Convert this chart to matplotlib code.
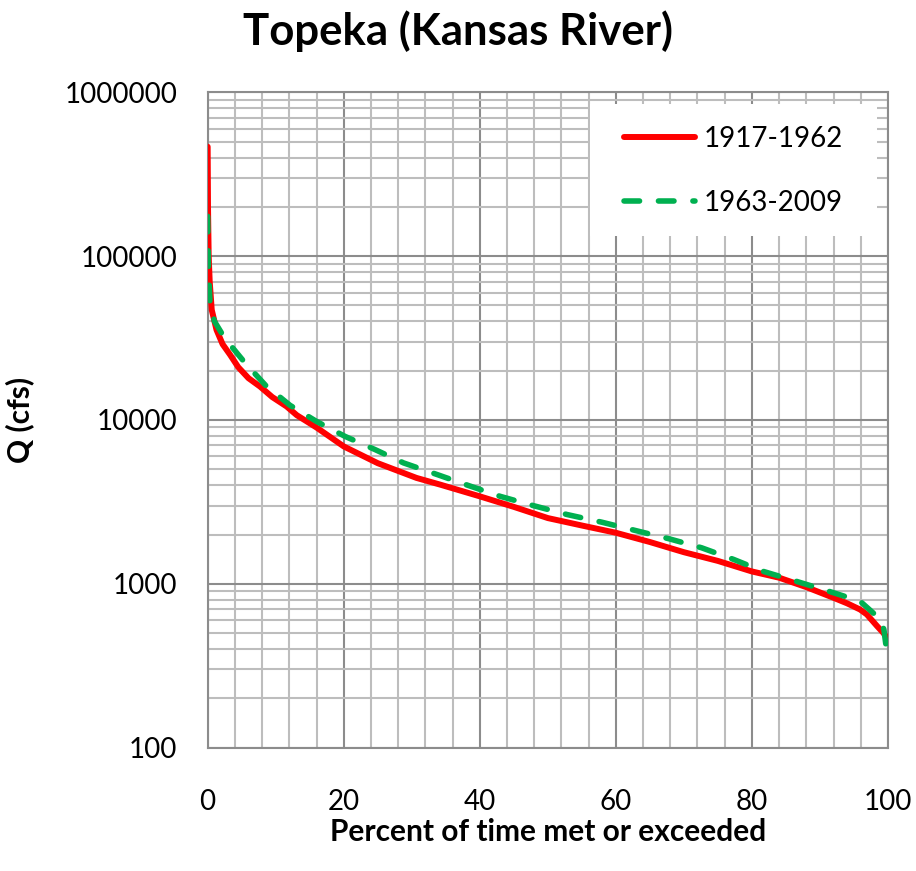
import numpy as np
import matplotlib
matplotlib.use('Agg')
import matplotlib.pyplot as plt
from matplotlib.ticker import MultipleLocator, LogLocator, FixedLocator
from matplotlib.patches import Rectangle

# flow duration, 1917-1962
pct_a = [0, 0.05, 0.15, 0.3, 0.6, 1.3, 2.2, 3.3, 4.5, 6, 7.7, 9.5, 11.6, 13.1,
         16, 20, 25, 30.7, 34.2, 40, 45, 50, 55, 60, 65, 70, 75, 80, 84, 88,
         92, 94, 95.9, 96.9, 98.4, 99.35, 100]
q_a = [466000, 200000, 100000, 70000, 47000, 35500, 29000, 25000, 21000, 18000,
       16000, 13800, 12100, 10700, 9000, 6900, 5450, 4430, 4030, 3420, 2950,
       2520, 2270, 2050, 1800, 1560, 1380, 1190, 1090, 955, 822, 760, 697,
       650, 552, 500, 458]

# flow duration, 1963-2009
pct_b = [0, 0.1, 0.34, 1, 2.5, 5.5, 8.5, 12.1, 16, 20.2, 24.6, 28.8, 33.7, 38.2,
         43, 47.9, 52.8, 57.9, 62.8, 67.9, 72.6, 77.3, 81.7, 86.4, 91.3, 95.9,
         98.9, 99.4, 100]
q_b = [175000, 90000, 51600, 40000, 31600, 22300, 16300, 12300, 9800, 7940,
       6600, 5470, 4650, 4000, 3420, 3000, 2650, 2380, 2120, 1880, 1660, 1410,
       1190, 1040, 901, 783, 606, 526, 340]

labels = ['1917-1962', '1963-2009']
y_ticks = [100, 1000, 10000, 100000, 1000000]

plt.rcParams['font.family'] = ['Lato', 'DejaVu Sans']

fig = plt.figure(figsize=(9.16, 8.71), dpi=100)
ax = fig.add_axes([0.2267, 0.1416, 0.7427, 0.7524])

ax.plot(pct_a, q_a, color='#FF0000', lw=4.3, solid_capstyle='round',
        solid_joinstyle='round', label=labels[0], zorder=3)
ax.plot(pct_b, q_b, color='#00B050', lw=4, dashes=(2.8, 3.4),
        dash_capstyle='round', label=labels[1], zorder=4)

ax.set_yscale('log')
ax.set_xlim(0, 100)
ax.set_ylim(100, 1000000)

ax.xaxis.set_major_locator(MultipleLocator(20))
ax.xaxis.set_minor_locator(MultipleLocator(4))
ax.yaxis.set_major_locator(FixedLocator(y_ticks))
ax.yaxis.set_minor_locator(LogLocator(base=10, subs=np.arange(2, 10)))
ax.set_yticklabels([str(v) for v in y_ticks])
ax.yaxis.set_minor_formatter(matplotlib.ticker.NullFormatter())

ax.grid(which='major', color='#8c8c8c', lw=1.5)
ax.grid(which='minor', color='#bdbdbd', lw=1.5)
ax.set_axisbelow(True)

for s in ax.spines.values():
    s.set_color('#8c8c8c')
    s.set_linewidth(1.5)

ax.tick_params(which='both', length=0)
ax.tick_params(axis='x', labelsize=20, pad=30)
ax.tick_params(axis='y', labelsize=20, pad=22)

ax.set_xlabel('Percent of time met or exceeded', fontsize=21.5,
              fontweight='bold', labelpad=2)
ax.set_ylabel('Q (cfs)', fontsize=21.5, fontweight='bold', labelpad=22)
fig.suptitle('Topeka (Kansas River)', fontsize=31.5, fontweight='bold',
             x=0.5, y=0.988)

# white legend box covering the grid
ax.add_patch(Rectangle((0.562, 0.781), 0.422, 0.201, transform=ax.transAxes,
                       facecolor='white', edgecolor='none', zorder=2.5))
leg = ax.legend(loc='center', bbox_to_anchor=(0.773, 0.880),
                fontsize=20, frameon=False,
                handlelength=2.55, handletextpad=0.3, labelspacing=1.35,
                borderpad=0, borderaxespad=0)

fig.savefig('out.png', dpi=100)
